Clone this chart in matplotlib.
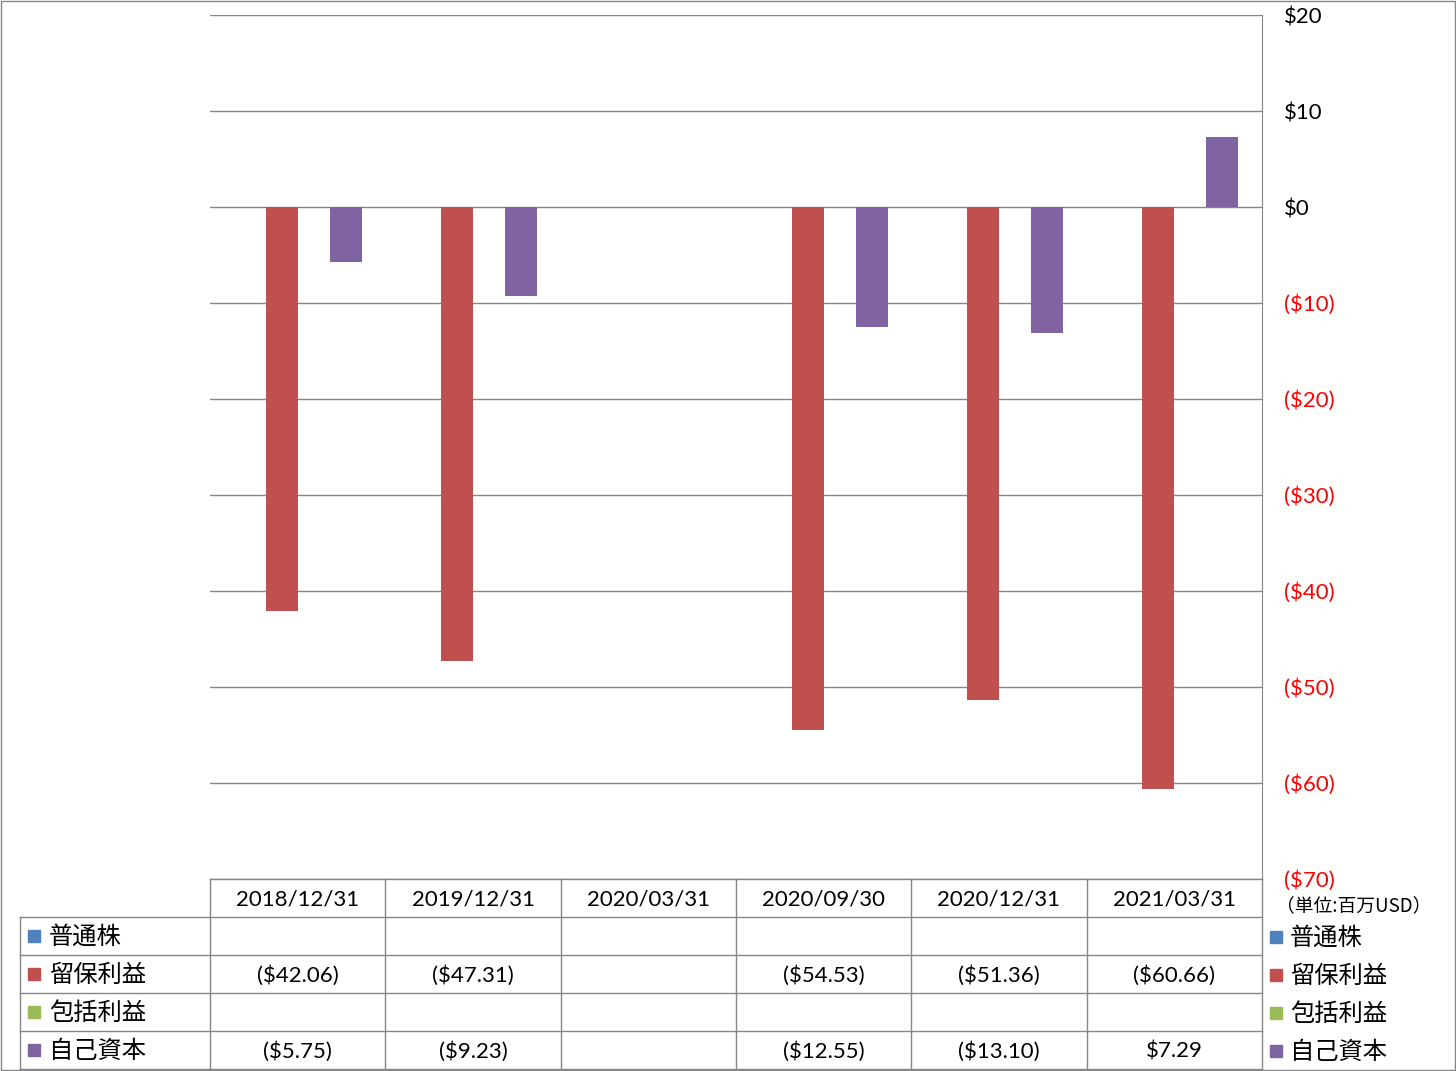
import numpy as np
import matplotlib.pyplot as plt

plt.rcParams['font.family'] = ['Lato', 'Noto Sans CJK JP', 'DejaVu Sans']

# data
dates = ['2018/12/31', '2019/12/31', '2020/03/31', '2020/09/30', '2020/12/31', '2021/03/31']
series = ['普通株', '留保利益', '包括利益', '自己資本']
colors = ['#4F81BD', '#C0504D', '#9BBB59', '#8064A2']
common_stock = [np.nan] * 6
retained = [-42.06, -47.31, np.nan, -54.53, -51.36, -60.66]
comprehensive = [np.nan] * 6
equity = [-5.75, -9.23, np.nan, -12.55, -13.10, 7.29]
values = [common_stock, retained, comprehensive, equity]
yticks = list(range(-70, 21, 10))

grey = '#868686'
W, H = 1456, 1071


def fr(x0, y0, x1, y1):
    return [x0 / W, 1 - y1 / H, (x1 - x0) / W, (y1 - y0) / H]


def money(v, dec=2):
    if np.isnan(v):
        return ''
    s = '${:.{d}f}'.format(abs(v), d=dec)
    return '(' + s + ')' if v < 0 else s


fig = plt.figure(figsize=(W / 100, H / 100), dpi=100)

# main chart
x0, x1, ytop, ybot = 210, 1262, 15, 879
ax = fig.add_axes(fr(x0, ytop, x1, ybot))
x = np.arange(len(dates))
bw = 32 / ((x1 - x0) / len(dates))
for i, (vals, c) in enumerate(zip(values, colors)):
    ax.bar(x + (i - 1.5) * bw, vals, bw, color=c, zorder=3)
ax.set_xlim(-0.5, len(dates) - 0.5)
ax.set_ylim(-70, 20)
ax.set_xticks([])
ax.yaxis.tick_right()
ax.set_yticks(yticks)
ax.set_yticklabels([money(v, 0) for v in yticks], fontsize=16)
for lab, v in zip(ax.get_yticklabels(), yticks):
    lab.set_color('red' if v < 0 else 'black')
ax.tick_params(axis='y', length=0, pad=15.5)
ax.grid(axis='y', color=grey, lw=1, zorder=0)
for s in ['top', 'left', 'bottom']:
    ax.spines[s].set_visible(False)
ax.spines['right'].set_color(grey)

# data table
tab = fig.add_axes([0, 0, 1, 1])
tab.set_xlim(0, W)
tab.set_ylim(H, 0)
tab.axis('off')
rows = [879, 917, 955, 993, 1031, 1069]
cw = (x1 - x0) / len(dates)
cols = [x0 + k * cw for k in range(len(dates) + 1)]
tab.plot([x0, x1], [rows[0]] * 2, color=grey, lw=1)
for y in rows[1:]:
    tab.plot([20, x1], [y, y], color=grey, lw=1)
tab.plot([20, 20], [rows[1], rows[-1]], color=grey, lw=1)
for cx in cols:
    tab.plot([cx, cx], [rows[0], rows[-1]], color=grey, lw=1)

for k, d in enumerate(dates):
    tab.text(cols[k] + cw / 2, (rows[0] + rows[1]) / 2 + 2, d, ha='center', va='center', fontsize=16)
for r, (name, c, vals) in enumerate(zip(series, colors, values)):
    yc = (rows[r + 1] + rows[r + 2]) / 2
    tab.add_patch(plt.Rectangle((28, yc - 6), 12, 12, color=c))
    tab.text(49, yc + 1, name, ha='left', va='center', fontsize=17.5, family='Noto Sans CJK JP')
    for k, v in enumerate(vals):
        tab.text(cols[k] + cw / 2, yc + 2, money(v), ha='center', va='center', fontsize=16)
    # right legend
    tab.add_patch(plt.Rectangle((1270, yc - 5), 12, 12, color=c))
    tab.text(1290, yc + 2, name, ha='left', va='center', fontsize=17.5, family='Noto Sans CJK JP')

tab.text(1276, 906, '（単位:百万USD）', ha='left', va='center', fontsize=13.5, family='Noto Sans CJK JP')
tab.add_patch(plt.Rectangle((0.5, 0.5), W - 1.5, H - 1.5, fill=False, ec=grey, lw=1))

fig.savefig('out.png', dpi=100)
